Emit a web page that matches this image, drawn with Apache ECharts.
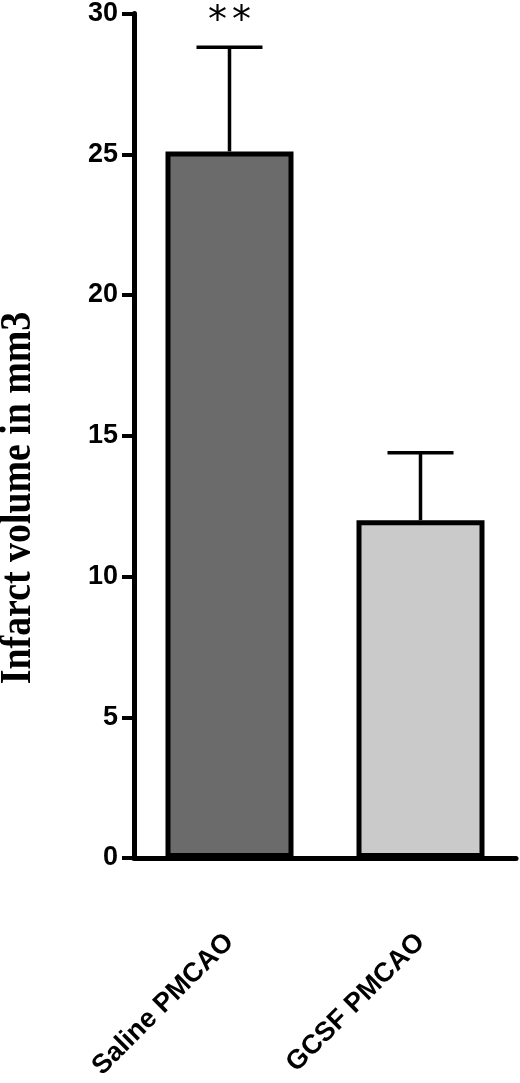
<!DOCTYPE html>
<html>
<head>
    <meta charset="utf-8">
    <title>Infarct volume</title>
    <script src="https://cdn.jsdelivr.net/npm/echarts@6/dist/echarts.min.js"></script>
    <style>
        html, body { margin: 0; padding: 0; background: #fff; }
        #chart { width: 520px; height: 1083px; }
    </style>
</head>
<body>
<div id="chart"></div>
<script>
    // values
    var categories = ['Saline PMCAO', 'GCSF PMCAO'];
    var means = [25.1, 12.0];
    var errors = [3.7, 2.4];
    var marks = ['**', ''];
    var barColors = ['#6b6b6b', '#cacaca'];
    var yTicks = [0, 5, 10, 15, 20, 25, 30];

    var myChart = echarts.init(document.getElementById('chart'));

    var barData = means.map(function (v, i) {
        return { value: v, itemStyle: { color: barColors[i] } };
    });
    var errData = means.map(function (v, i) {
        return [i, v, v + errors[i]];
    });

    myChart.setOption({
        animation: false,
        grid: { left: 134, right: 4, top: 12, bottom: 225 },
        xAxis: {
            type: 'category',
            data: categories,
            axisLine: { lineStyle: { color: '#000', width: 5 } },
            axisTick: { show: false },
            axisLabel: {
                rotate: 45,
                margin: 80,
                color: '#000',
                fontFamily: 'Liberation Sans',
                fontWeight: 'bold',
                fontSize: 27
            }
        },
        yAxis: {
            type: 'value',
            min: yTicks[0],
            max: yTicks[yTicks.length - 1],
            interval: 5,
            splitLine: { show: false },
            axisLine: { show: true, lineStyle: { color: '#000', width: 5 } },
            axisTick: { show: true, length: 12, lineStyle: { color: '#000', width: 4 } },
            axisLabel: {
                margin: 16,
                color: '#000',
                fontFamily: 'Liberation Sans',
                fontWeight: 'bold',
                fontSize: 27
            }
        },
        graphic: [{
            type: 'text',
            x: 19,
            y: 498,
            rotation: Math.PI / 2,
            scaleX: 0.86,
            style: {
                text: 'Infarct volume in mm3',
                fill: '#000',
                font: 'bold 44px "Liberation Serif"',
                align: 'center',
                verticalAlign: 'middle'
            }
        }],
        series: [{
            type: 'bar',
            data: barData,
            barWidth: 128,
            itemStyle: { borderColor: '#000', borderWidth: 5 }
        }, {
            type: 'custom',
            data: errData,
            z: 5,
            renderItem: function (params, api) {
                var i = api.value(0);
                var base = api.coord([i, api.value(1)]);
                var top = api.coord([i, api.value(2)]);
                var half = 33;
                var lineStyle = { stroke: '#000', lineWidth: 3.5 };
                var children = [
                    { type: 'line', shape: { x1: base[0], y1: base[1], x2: top[0], y2: top[1] }, style: lineStyle },
                    { type: 'line', shape: { x1: top[0] - half, y1: top[1], x2: top[0] + half, y2: top[1] }, style: lineStyle }
                ];
                var m = marks[params.dataIndex];
                for (var k = 0; k < m.length; k++) {
                    children.push({
                        type: 'text',
                        x: top[0] + (k - (m.length - 1) / 2) * 24,
                        y: top[1] - 25,
                        style: {
                            text: m[k],
                            fill: '#000',
                            font: '38px "DejaVu Sans"',
                            align: 'center',
                            verticalAlign: 'middle'
                        }
                    });
                }
                return { type: 'group', children: children };
            }
        }]
    });
</script>
</body>
</html>
